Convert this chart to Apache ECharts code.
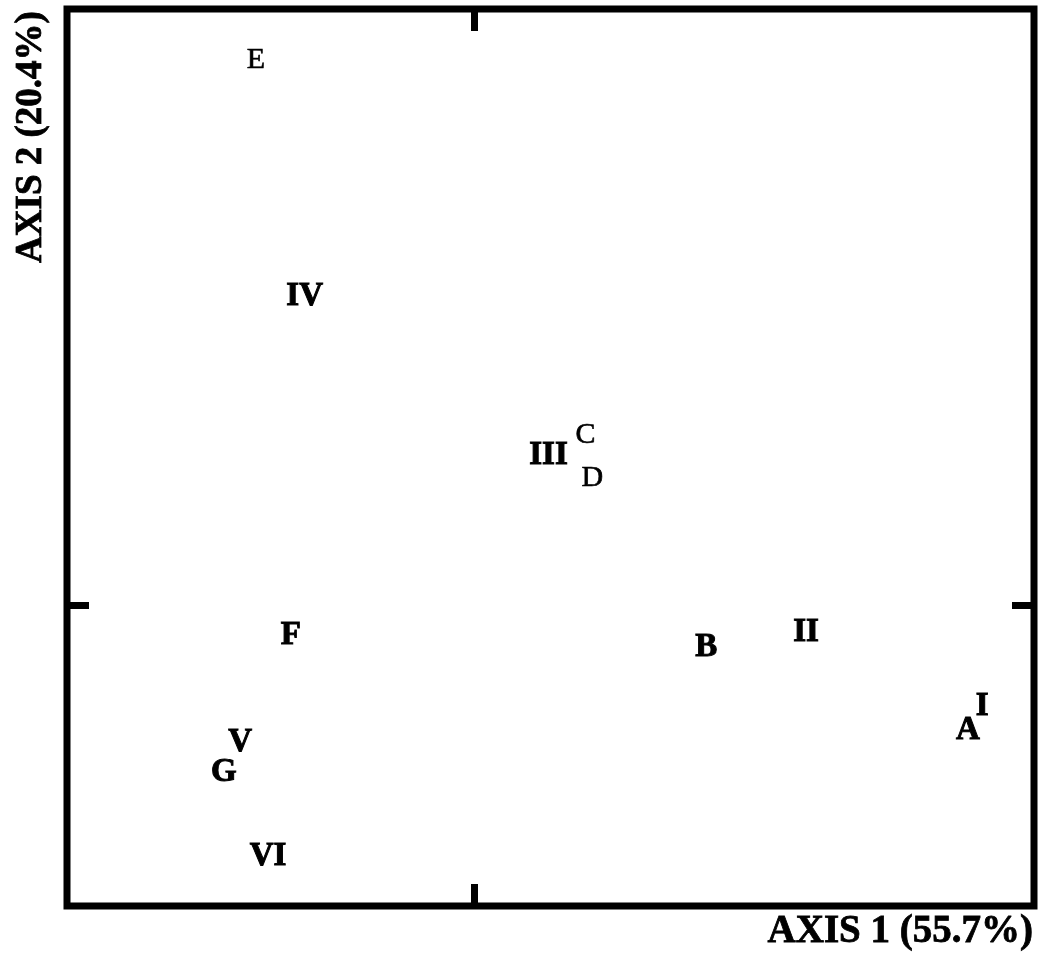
<!DOCTYPE html>
<html>
<head>
<meta charset="utf-8">
<style>
  html, body { margin: 0; padding: 0; background: #fff; }
  #chart { width: 1043px; height: 958px; }
</style>
<script src="https://cdn.jsdelivr.net/npm/echarts@6/dist/echarts.min.js"></script>
</head>
<body>
<div id="chart"></div>
<script>
// Ordination scores: sample sites (letters)
const siteNames = ['A', 'B', 'C', 'D', 'E', 'F', 'G'];
const siteX = [0.970, 0.456, 0.219, 0.232, -0.429, -0.360, -0.492];
const siteY = [-0.208, -0.070, 0.282, 0.211, 0.905, -0.050, -0.279];

// Ordination scores: groups (roman numerals)
const groupNames = ['I', 'II', 'III', 'IV', 'V', 'VI'];
const groupX = [0.998, 0.652, 0.146, -0.333, -0.460, -0.405];
const groupY = [-0.169, -0.045, 0.249, 0.512, -0.229, -0.417];

// Axis extents and the single centre tick on each side
const xRange = [-0.8, 1.1];
const yRange = [-0.5, 0.99];
const centreTick = [0];

const axisTitleX = 'AXIS 1 (55.7%)';
const axisTitleY = 'AXIS 2 (20.4%)';

const FONT = '"Liberation Serif", "Times New Roman", serif';
const regularNames = new Set(['C', 'D', 'E']);

function labelled(names, xs, ys) {
  return names.map((n, i) => {
    const regular = regularNames.has(n);
    return {
      name: n,
      value: [xs[i], ys[i]],
      label: {
        color: '#000',
        fontWeight: regular ? 'normal' : 'bold',
        fontSize: regular ? 30 : 33,
        textBorderColor: '#000',
        textBorderWidth: regular ? 0.6 : 1
      }
    };
  });
}

function tickAxis(position, range) {
  return {
    type: 'value',
    position: position,
    min: range[0],
    max: range[1],
    axisLine: { show: false, onZero: false },
    splitLine: { show: false },
    axisLabel: { show: false },
    axisTick: {
      show: true,
      inside: true,
      length: 22,
      customValues: centreTick,
      lineStyle: { color: '#000', width: 7 }
    }
  };
}

const textSeries = (name, data) => ({
  name: name,
  type: 'scatter',
  symbolSize: 0,
  itemStyle: { color: '#000', opacity: 1 },
  data: data,
  label: {
    show: true,
    position: 'inside',
    formatter: p => p.name,
    color: '#000',
    opacity: 1,
    fontFamily: FONT
  },
  emphasis: { disabled: true }
});

const chart = echarts.init(document.getElementById('chart'));
chart.setOption({
  backgroundColor: '#fff',
  animation: false,
  grid: {
    left: 67, right: 9, top: 9, bottom: 52,
    show: true,
    borderColor: '#000',
    borderWidth: 7,
    backgroundColor: 'transparent'
  },
  xAxis: [tickAxis('bottom', xRange), tickAxis('top', xRange)],
  yAxis: [tickAxis('left', yRange), tickAxis('right', yRange)],
  series: [
    textSeries('sites', labelled(siteNames, siteX, siteY)),
    textSeries('groups', labelled(groupNames, groupX, groupY))
  ],
  graphic: [
    {
      type: 'text',
      x: 1033, y: 932,
      style: {
        text: axisTitleX,
        font: 'bold 39px ' + FONT,
        fill: '#000',
        stroke: '#000',
        lineWidth: 0.8,
        align: 'right',
        verticalAlign: 'middle'
      }
    },
    {
      type: 'text',
      x: 31, y: 137,
      rotation: Math.PI / 2,
      style: {
        text: axisTitleY,
        font: 'bold 37px ' + FONT,
        fill: '#000',
        stroke: '#000',
        lineWidth: 0.8,
        align: 'center',
        verticalAlign: 'middle'
      }
    }
  ]
});
</script>
</body>
</html>
